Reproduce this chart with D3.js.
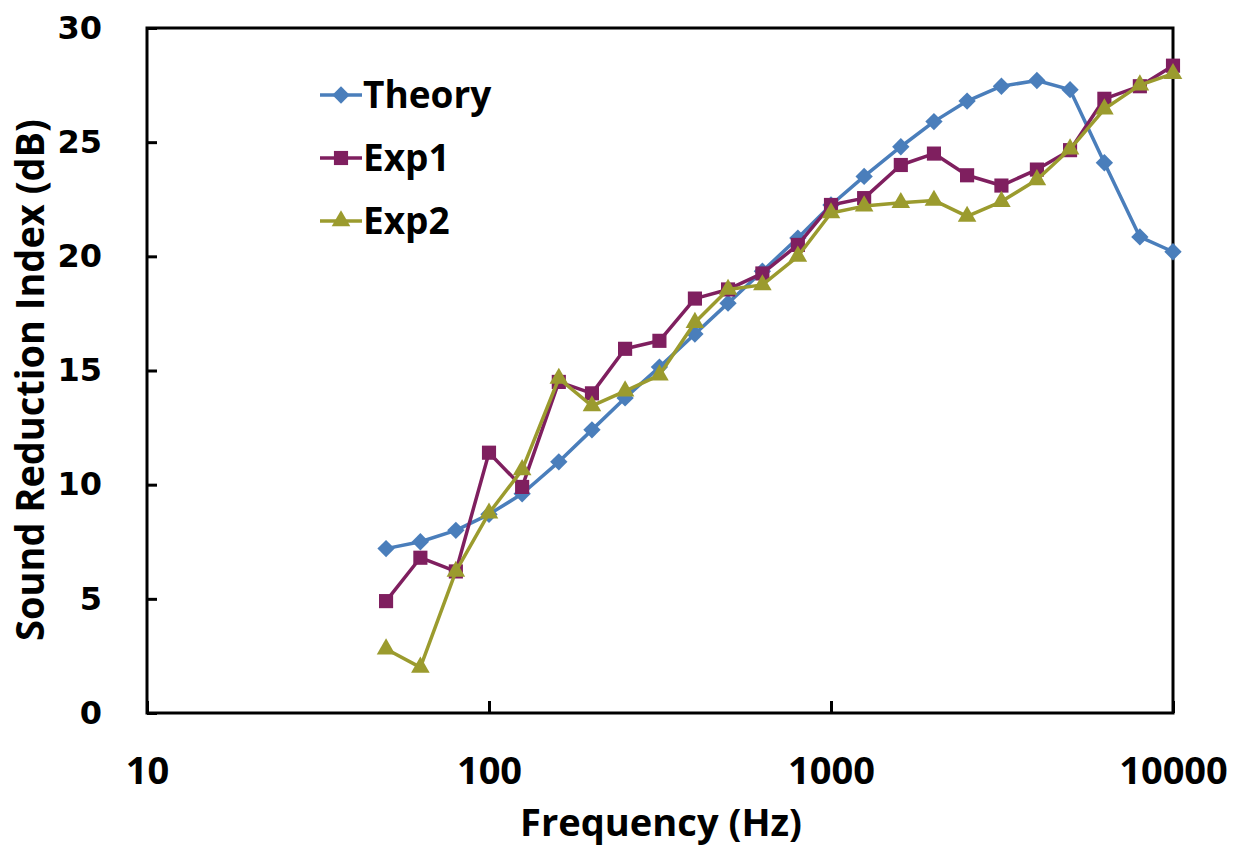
<!DOCTYPE html>
<html>
<head>
<meta charset="utf-8">
<script src="https://cdn.jsdelivr.net/npm/d3@7"></script>
<style>
  body { margin: 0; background: #fff; }
  svg { display: block; }
</style>
</head>
<body>
<div id="chart"></div>
<script>
// data (1/3 octave bands)
const freqs = [50, 63, 80, 100, 125, 160, 200, 250, 315, 400, 500, 630, 800, 1000,
               1250, 1600, 2000, 2500, 3150, 4000, 5000, 6300, 8000, 10000];
const theory = [7.2, 7.5, 8.0, 8.7, 9.6, 11.0, 12.4, 13.8, 15.15, 16.6, 17.95, 19.35, 20.8, 22.25,
                23.5, 24.8, 25.9, 26.8, 27.45, 27.7, 27.3, 24.1, 20.85, 20.2];
const exp1 = [4.9, 6.8, 6.2, 11.4, 9.9, 14.5, 14.0, 15.95, 16.3, 18.15, 18.55, 19.25, 20.5, 22.25,
              22.55, 24.0, 24.5, 23.55, 23.1, 23.8, 24.65, 26.9, 27.45, 28.35];
const exp2 = [2.8, 2.0, 6.2, 8.75, 10.65, 14.65, 13.45, 14.1, 14.8, 17.1, 18.55, 18.75, 20.0, 21.9,
              22.2, 22.35, 22.45, 21.75, 22.4, 23.35, 24.7, 26.45, 27.5, 28.0];
const seriesNames = ["Theory", "Exp1", "Exp2"];
const xTicks = [10, 100, 1000, 10000];
const yTicks = [0, 5, 10, 15, 20, 25, 30];

const width = 1245, height = 848;
const margin = {left: 147, right: 72, top: 28, bottom: 135};

const svg = d3.select("#chart").append("svg")
  .attr("width", width)
  .attr("height", height);

const x = d3.scaleLog().domain([10, 10000]).range([margin.left, width - margin.right]);
const y = d3.scaleLinear().domain([0, 30]).range([height - margin.bottom, margin.top]);

const colors = {Theory: "#4a7ebb", Exp1: "#7f1f5f", Exp2: "#9b9b2e"};
const symbols = {
  Theory: {type: d3.symbolSquare, size: 150, rotate: 45},
  Exp1: {type: d3.symbolSquare, size: 200, rotate: 0},
  Exp2: {type: d3.symbolTriangle, size: 150, rotate: 0}
};

// y axis
svg.append("g")
  .attr("transform", `translate(${margin.left},0)`)
  .call(d3.axisLeft(y).tickValues(yTicks).tickSizeInner(-10).tickSizeOuter(0).tickPadding(45))
  .call(g => g.select(".domain").remove())
  .call(g => g.selectAll("line").attr("stroke", "#000").attr("stroke-width", 3))
  .call(g => g.selectAll("text")
    .attr("font-family", "DejaVu Sans")
    .attr("font-weight", "bold")
    .attr("font-size", 32)
    .attr("fill", "#000"));

// x axis
svg.append("g")
  .attr("transform", `translate(0,${height - margin.bottom})`)
  .call(d3.axisBottom(x).tickValues(xTicks).tickFormat(d3.format("d")).tickSizeInner(-12).tickSizeOuter(0).tickPadding(44))
  .call(g => g.select(".domain").remove())
  .call(g => g.selectAll("line").attr("stroke", "#000").attr("stroke-width", 3))
  .call(g => g.selectAll("text")
    .attr("font-family", "Open Sans")
    .attr("font-weight", "bold")
    .attr("font-size", 38)
    .attr("fill", "#000"));

// frame
svg.append("rect")
  .attr("x", margin.left)
  .attr("y", margin.top)
  .attr("width", width - margin.left - margin.right)
  .attr("height", height - margin.top - margin.bottom)
  .attr("fill", "none")
  .attr("stroke", "#000")
  .attr("stroke-width", 3);

// axis titles
svg.append("text")
  .attr("x", (margin.left + width - margin.right) / 2 + 1)
  .attr("y", 836)
  .attr("text-anchor", "middle")
  .attr("font-family", "Open Sans")
  .attr("font-weight", "bold")
  .attr("font-size", 38)
  .attr("textLength", 282)
  .attr("lengthAdjust", "spacingAndGlyphs")
  .text("Frequency (Hz)");

svg.append("text")
  .attr("transform", "translate(44,380) rotate(-90)")
  .attr("text-anchor", "middle")
  .attr("font-family", "Open Sans")
  .attr("font-weight", "bold")
  .attr("font-size", 40)
  .attr("textLength", 522)
  .attr("lengthAdjust", "spacingAndGlyphs")
  .text("Sound Reduction Index (dB)");

// series
const allSeries = [
  {name: "Theory", values: theory},
  {name: "Exp1", values: exp1},
  {name: "Exp2", values: exp2}
];

const line = d3.line()
  .x(d => x(d[0]))
  .y(d => y(d[1]));

allSeries.forEach(s => {
  const pts = freqs.map((f, i) => [f, s.values[i]]);
  svg.append("path")
    .datum(pts)
    .attr("d", line)
    .attr("fill", "none")
    .attr("stroke", colors[s.name])
    .attr("stroke-width", 3.5)
    .attr("stroke-linejoin", "round");

  const sym = symbols[s.name];
  svg.append("g").selectAll("path")
    .data(pts)
    .enter()
    .append("path")
    .attr("d", d3.symbol().type(sym.type).size(sym.size))
    .attr("transform", d => `translate(${x(d[0])},${y(d[1])}) rotate(${sym.rotate})`)
    .attr("fill", colors[s.name]);
});

// legend
const legend = svg.append("g").attr("transform", "translate(320,95)");
seriesNames.forEach((name, i) => {
  const row = legend.append("g").attr("transform", `translate(0,${i * 63})`);
  row.append("line")
    .attr("x1", 0).attr("x2", 42)
    .attr("stroke", colors[name])
    .attr("stroke-width", 3.5);
  const sym = symbols[name];
  row.append("path")
    .attr("d", d3.symbol().type(sym.type).size(sym.size))
    .attr("transform", `translate(21,0) rotate(${sym.rotate})`)
    .attr("fill", colors[name]);
  row.append("text")
    .attr("x", 43)
    .attr("y", 13)
    .attr("font-family", "Open Sans")
    .attr("font-weight", "bold")
    .attr("font-size", 37)
    .attr("fill", "#000")
    .text(name);
});
</script>
</body>
</html>
